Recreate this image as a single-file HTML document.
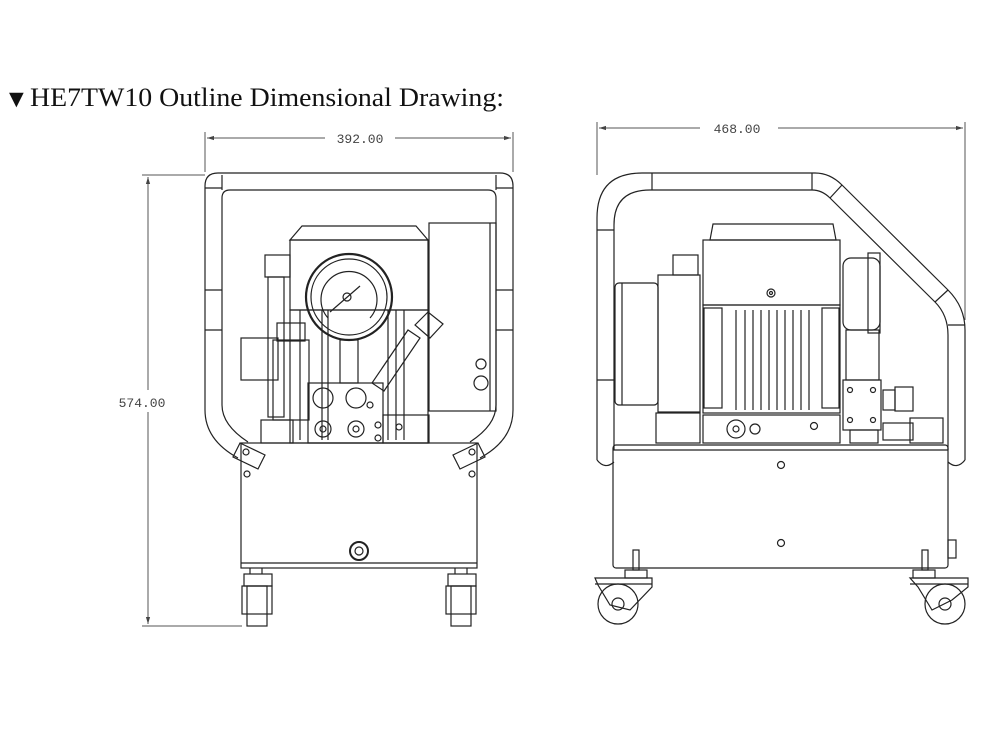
<!DOCTYPE html>
<html><head><meta charset="utf-8"><style>
html,body{margin:0;padding:0;background:#fff;}
svg{display:block;}
text{font-family:"Liberation Serif",serif;}
.m{font-family:"Liberation Mono",monospace;font-size:13px;fill:#444;}
</style></head><body>
<svg width="1000" height="750" viewBox="0 0 1000 750" xmlns="http://www.w3.org/2000/svg">
<defs>
<marker id="a" viewBox="0 0 10 10" refX="10" refY="5" markerWidth="7" markerHeight="7" orient="auto-start-reverse"><path d="M0,2 L10,5 L0,8 z" fill="#444"/></marker>
</defs>
<text x="4" y="107" font-size="25" fill="#111">▼</text>
<text x="30" y="106" font-size="26" fill="#111" textLength="474" lengthAdjust="spacingAndGlyphs">HE7TW10 Outline Dimensional Drawing:</text>

<g stroke="#555" stroke-width="1" fill="none">
<!-- left dims -->
<line x1="205" y1="132" x2="205" y2="172"/><line x1="513" y1="132" x2="513" y2="172"/>
<line x1="207" y1="138" x2="325" y2="138" marker-start="url(#a)"/>
<line x1="395" y1="138" x2="511" y2="138" marker-end="url(#a)"/>
<line x1="142" y1="175" x2="205" y2="175"/><line x1="142" y1="626" x2="242" y2="626"/>
<line x1="148" y1="177" x2="148" y2="390" marker-start="url(#a)"/>
<line x1="148" y1="412" x2="148" y2="624" marker-end="url(#a)"/>
<!-- right dims -->
<line x1="597" y1="122" x2="597" y2="175"/><line x1="965" y1="122" x2="965" y2="320"/>
<line x1="599" y1="128" x2="700" y2="128" marker-start="url(#a)"/>
<line x1="778" y1="128" x2="963" y2="128" marker-end="url(#a)"/>
</g>
<text class="m" x="360" y="143" text-anchor="middle">392.00</text>
<text class="m" x="142" y="407" text-anchor="middle">574.00</text>
<text class="m" x="737" y="133" text-anchor="middle">468.00</text>

<g stroke="#222" stroke-width="1.2" fill="none">
<!-- LEFT VIEW frame -->
<path d="M205,410 L205,186 Q205,173 218,173 L500,173 Q513,173 513,186 L513,410 Q513,440 480,458"/>
<path d="M222,405 L222,198 Q222,190 230,190 L488,190 Q496,190 496,198 L496,405 Q496,425 470,442"/>
<path d="M205,410 Q205,440 238,458"/><path d="M222,405 Q222,425 248,442"/>
<line x1="205" y1="188" x2="222" y2="188"/><line x1="496" y1="188" x2="513" y2="188"/>
<line x1="205" y1="290" x2="222" y2="290"/><line x1="205" y1="330" x2="222" y2="330"/>
<line x1="496" y1="290" x2="513" y2="290"/><line x1="496" y1="330" x2="513" y2="330"/>
<line x1="222" y1="175" x2="222" y2="190"/><line x1="496" y1="175" x2="496" y2="190"/>
<!-- brackets -->
<path d="M240,443 L265,455 L258,469 L233,457 z"/><circle cx="246" cy="452" r="3"/>
<path d="M478,443 L453,455 L460,469 L485,457 z"/><circle cx="472" cy="452" r="3"/>
<circle cx="247" cy="474" r="3"/><circle cx="472" cy="474" r="3"/>
<!-- tank -->
<rect x="241" y="443" width="236" height="125"/>
<line x1="241" y1="563" x2="477" y2="563"/>
<circle cx="359" cy="551" r="9" stroke-width="2"/><circle cx="359" cy="551" r="4"/>
<!-- casters -->
<rect x="244" y="574" width="28" height="12"/><rect x="242" y="586" width="30" height="28"/><rect x="247" y="586" width="20" height="40"/>
<rect x="448" y="574" width="28" height="12"/><rect x="446" y="586" width="30" height="28"/><rect x="451" y="586" width="20" height="40"/>
<line x1="250" y1="568" x2="250" y2="574"/><line x1="262" y1="568" x2="262" y2="574"/>
<line x1="455" y1="568" x2="455" y2="574"/><line x1="467" y1="568" x2="467" y2="574"/>
<!-- motor -->
<path d="M290,240 L302,226 L416,226 L428,240 z"/>
<rect x="290" y="240" width="138" height="70"/>
<rect x="290" y="310" width="138" height="133"/>
<line x1="300" y1="310" x2="300" y2="440"/><line x1="322" y1="310" x2="322" y2="440"/>
<line x1="328" y1="310" x2="328" y2="440"/><line x1="388" y1="310" x2="388" y2="440"/><line x1="396" y1="310" x2="396" y2="440"/><line x1="404" y1="310" x2="404" y2="440"/>
<circle cx="349" cy="297" r="43" stroke-width="2.2"/><circle cx="349" cy="297" r="38"/>
<path d="M328,318 A28,28 0 1 1 370,318"/><circle cx="347" cy="297" r="4"/>
<line x1="330" y1="312" x2="360" y2="286"/>
<rect x="340" y="340" width="18" height="43"/>
<!-- control box -->
<rect x="429" y="223" width="67" height="188"/><line x1="490" y1="223" x2="490" y2="411"/>
<circle cx="481" cy="364" r="5"/><circle cx="481" cy="383" r="7"/>
<!-- left components -->
<rect x="265" y="255" width="25" height="22"/><rect x="268" y="277" width="16" height="140"/>
<rect x="241" y="338" width="37" height="42"/><rect x="273" y="340" width="36" height="80"/><rect x="277" y="323" width="28" height="18"/>
<rect x="261" y="420" width="32" height="23"/>
<!-- manifold -->
<rect x="308" y="383" width="75" height="60"/>
<circle cx="323" cy="398" r="10"/><circle cx="356" cy="398" r="10"/>
<circle cx="323" cy="429" r="8"/><circle cx="323" cy="429" r="3"/>
<circle cx="356" cy="429" r="8"/><circle cx="356" cy="429" r="3"/>
<circle cx="370" cy="405" r="3"/><circle cx="378" cy="425" r="3"/><circle cx="378" cy="438" r="3"/>
<rect x="383" y="415" width="46" height="28"/><circle cx="399" cy="427" r="3"/>
<!-- diagonal valve -->
<path d="M372,383 L408,330 L420,338 L384,391 z"/>
<path d="M415,325 L428,312 L443,324 L430,338 z"/>
</g>

<g stroke="#222" stroke-width="1.2" fill="none">
<!-- RIGHT VIEW frame -->
<path d="M597,460 L597,218 Q597,173 642,173 L815,173 Q830,173 842,185 L948,290 Q965,307 965,330 L965,460"/>
<path d="M614,450 L614,225 Q614,190 650,190 L812,190 Q822,190 830,198 L935,302 Q948,315 948,335 L948,450"/>
<path d="M597,460 Q605,470 614,462"/><path d="M965,460 Q957,470 948,462"/>
<line x1="597" y1="230" x2="614" y2="230"/><line x1="597" y1="380" x2="614" y2="380"/>
<line x1="652" y1="173" x2="652" y2="190"/><line x1="812" y1="173" x2="812" y2="190"/>
<line x1="842" y1="185" x2="830" y2="198"/><line x1="948" y1="290" x2="935" y2="302"/>
<line x1="948" y1="325" x2="965" y2="325"/>
<!-- tank -->
<rect x="613" y="445" width="335" height="123" rx="3"/>
<line x1="613" y1="450" x2="948" y2="450"/>
<circle cx="781" cy="465" r="3.5"/><circle cx="781" cy="543" r="3.5"/>
<rect x="948" y="540" width="8" height="18"/>
<!-- casters -->
<rect x="633" y="550" width="6" height="20"/><rect x="922" y="550" width="6" height="20"/>
<path d="M595,578 L652,578 L652,587 L630,610 L610,605 L598,585 z"/><line x1="595" y1="584" x2="652" y2="584"/>
<circle cx="618" cy="604" r="20"/><circle cx="618" cy="604" r="6"/>
<path d="M910,578 L968,578 L968,587 L952,600 L932,610 L918,587 z"/><line x1="910" y1="584" x2="968" y2="584"/>
<circle cx="945" cy="604" r="20"/><circle cx="945" cy="604" r="6"/>
<rect x="625" y="570" width="22" height="8"/><rect x="913" y="570" width="22" height="8"/>
<!-- motor -->
<path d="M710,240 L713,224 L833,224 L836,240 z"/>
<rect x="703" y="240" width="137" height="65"/>
<circle cx="771" cy="293" r="4"/><circle cx="771" cy="293" r="1.5"/>
<rect x="703" y="305" width="137" height="108"/>
<rect x="704" y="308" width="18" height="100"/><rect x="822" y="308" width="17" height="100"/>
<line x1="736" y1="310" x2="736" y2="410"/><line x1="745" y1="310" x2="745" y2="410"/><line x1="753" y1="310" x2="753" y2="410"/><line x1="761" y1="310" x2="761" y2="410"/><line x1="769" y1="310" x2="769" y2="410"/><line x1="777" y1="310" x2="777" y2="410"/><line x1="785" y1="310" x2="785" y2="410"/><line x1="793" y1="310" x2="793" y2="410"/><line x1="801" y1="310" x2="801" y2="410"/><line x1="809" y1="310" x2="809" y2="410"/>
<rect x="703" y="415" width="137" height="28"/>
<circle cx="736" cy="429" r="9"/><circle cx="736" cy="429" r="3"/><circle cx="755" cy="429" r="5"/><circle cx="814" cy="426" r="3.5"/>
<!-- left bell -->
<rect x="615" y="283" width="43" height="122" rx="4"/><line x1="622" y1="283" x2="622" y2="405"/>
<rect x="658" y="275" width="42" height="137"/><rect x="673" y="255" width="25" height="20"/>
<rect x="656" y="413" width="44" height="30"/>
<!-- right valve stack -->
<rect x="843" y="258" width="37" height="72" rx="8"/><rect x="868" y="253" width="12" height="80"/>
<rect x="846" y="330" width="33" height="50"/>
<rect x="843" y="380" width="38" height="50"/><circle cx="850" cy="390" r="2.5"/><circle cx="873" cy="390" r="2.5"/><circle cx="850" cy="420" r="2.5"/><circle cx="873" cy="420" r="2.5"/>
<rect x="850" y="430" width="28" height="13"/>
<rect x="883" y="390" width="12" height="20"/><rect x="895" y="387" width="18" height="24"/>
<rect x="883" y="423" width="30" height="17"/><rect x="910" y="418" width="33" height="25"/>
</g>
</svg>
</body></html>
